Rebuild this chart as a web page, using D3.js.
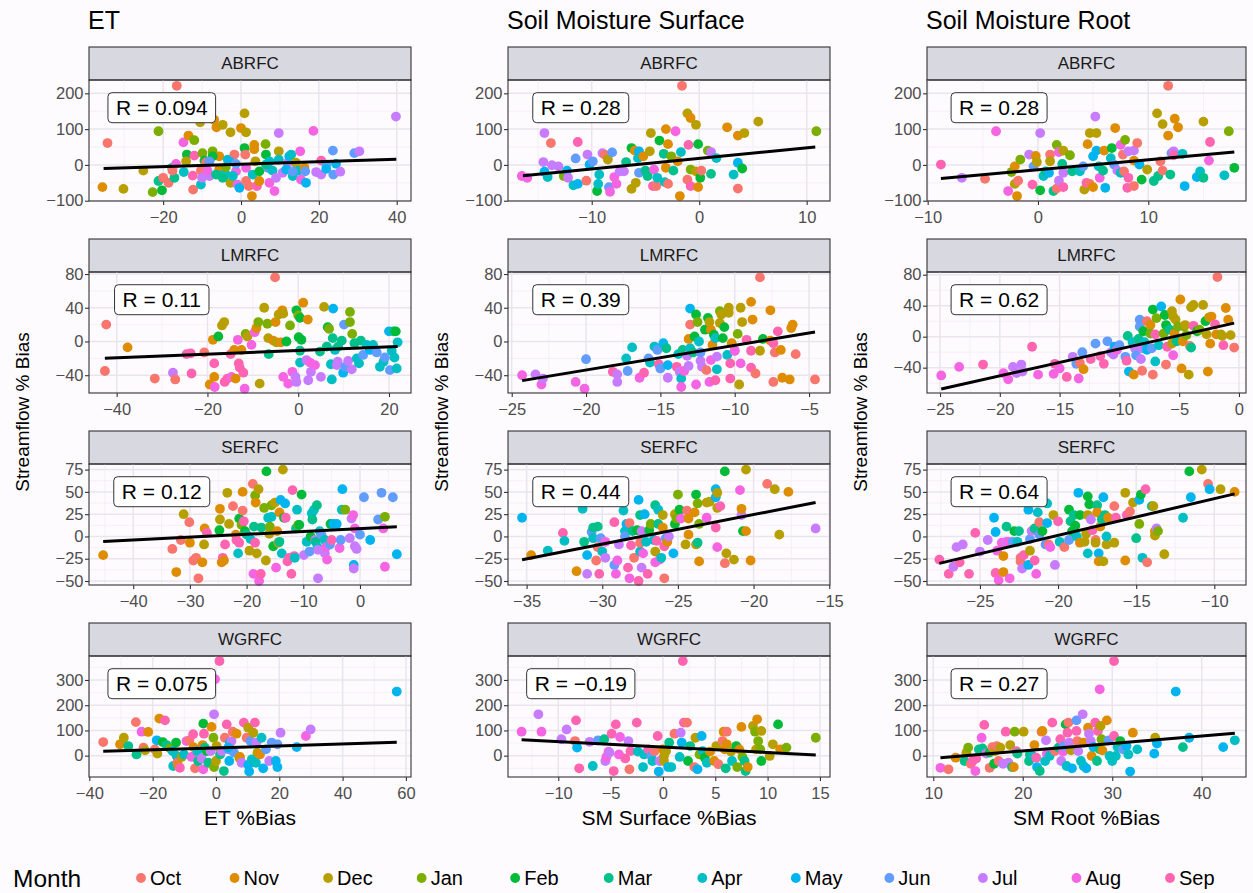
<!DOCTYPE html>
<html lang="en">
<head>
<meta charset="UTF-8">
<title>Streamflow bias vs ET and soil moisture bias</title>
<script src="https://d3js.org/d3.v7.min.js"></script>
<style>
  body { margin: 0; background: #fefbfe; }
  svg { display: block; font-family: "Liberation Sans", Arial, sans-serif; }
</style>
</head>
<body>
<div id="chart"></div>
<script>
// months in water-year order, colours = ggplot default hue palette
const months = ["Oct", "Nov", "Dec", "Jan", "Feb", "Mar", "Apr", "May", "Jun", "Jul", "Aug", "Sep"];
const monthColors = ["#F8766D", "#DE8C00", "#B79F00", "#7CAE00", "#00BA38", "#00C08B",
                     "#00BFC4", "#00B4F0", "#619CFF", "#C77CFF", "#F564E3", "#FF64B0"];
const regions = ["ABRFC", "LMRFC", "SERFC", "WGRFC"];
const columnTitles = ["ET", "Soil Moisture Surface", "Soil Moisture Root"];
const xTitles = ["ET %Bias", "SM Surface %Bias", "SM Root %Bias"];
const yTitle = "Streamflow % Bias";

// correlation labels, row-major (region x variable)
const rLabels = ["R = 0.094", "R = 0.28", "R = 0.28",
                 "R = 0.11", "R = 0.39", "R = 0.62",
                 "R = 0.12", "R = 0.44", "R = 0.64",
                 "R = 0.075", "R = \u22120.19", "R = 0.27"];

// fitted line end points [x0, y0, x1, y1]
const fitLines = [
  [-35.3, -10.3, 39.9, 15.6], [-16.4, -30, 10.8, 50], [-8.8, -38, 17.8, 36],
  [-42.6, -19.8, 21.9, -6], [-24.3, -46.4, -4.6, 11.2], [-24.9, -67.6, -0.4, 17.5],
  [-45.3, -5.6, 6.5, 10.8], [-35.3, -26.1, -15.9, 38.1], [-27.6, -30.2, -8.7, 47.8],
  [-35.6, 17.2, 57.1, 52.8], [-13.5, 63.4, 14.6, 2.6], [10.8, -7.9, 43.7, 88.5]
];

const xLimits = [
  [-39.05, 43.67], [-17.79, 12.17], [-10.06, 18.86],
  [-46.1, 24.85], [-25.25, -3.59], [-26.09, 0.59],
  [-47.8, 9.0], [-36.23, -14.95], [-28.39, -7.97],
  [-40.1, 61.6], [-14.8, 15.96], [9.3, 44.95]
];
const yLimits = [
  [-100.8, 237.2], [-100.8, 237.2], [-100.8, 237.2],
  [-61.1, 82.4], [-61.1, 82.4], [-72.7, 83.5],
  [-54.5, 81.3], [-54.5, 81.3], [-54.5, 81.3],
  [-84.5, 395], [-84.5, 395], [-84.5, 395]
];
const xTicks = [
  [-20, 0, 20, 40], [-10, 0, 10], [-10, 0, 10],
  [-40, -20, 0, 20], [-25, -20, -15, -10, -5], [-25, -20, -15, -10, -5, 0],
  [-40, -30, -20, -10, 0], [-35, -30, -25, -20, -15], [-25, -20, -15, -10],
  [-40, -20, 0, 20, 40, 60], [-10, -5, 0, 5, 10, 15], [10, 20, 30, 40]
];
const yTicksByRegion = [[-100, 0, 100, 200], [-40, 0, 40, 80], [-50, -25, 0, 25, 50, 75], [0, 100, 200, 300]];

// points: [x bias, streamflow bias, month index]
const etABRFC = [[-16.5,221,0],[-34.3,61,0],[-35.6,-62,1],[-30.2,-67,2],[-25.1,-16,2],[-22.7,-76,3],[-20.3,-71,4],[-21.2,94,3],[-21.2,-45,5],[-20,-36,0],[-18.6,-50,0],[-17.1,-36,5],[-17.7,-8,5],[-16.7,3,10],[-17.6,-16,0],[-14.8,63,10],[-13.5,82,1],[-12,69,3],[-13.9,29,4],[-14.1,10,2],[-14.7,-20,6],[-12.4,-30,11],[-12.3,-69,0],[-12,26,11],[-10.5,119,2],[-9.9,33,3],[-9.4,12,4],[-10.3,-16,0],[-9,7,0],[-10.3,-55,6],[-10,-36,9],[-8.1,-31,9],[-8.6,-16,10],[-7.3,38,3],[-6.9,126,1],[-6.3,105,1],[-4.7,112,2],[-5.6,24,1],[-7.3,24,4],[-5.6,-13,1],[-4.9,-29,6],[-3.9,-27,6],[-3.4,15,6],[-2.7,91,2],[-2.7,-50,2],[-3.9,-6,3],[-1.7,29,0],[-1.3,-18,10],[-0.9,-55,10],[-0.4,-64,7],[0,103,1],[0.9,144,2],[1.3,91,2],[0.9,47,4],[1.1,29,0],[1.3,-8,10],[1.3,-45,0],[2,-59,0],[2.8,-87,1],[3,-27,6],[3.4,56,1],[3.4,44,1],[3.7,10,2],[4.1,-59,11],[4.7,-45,1],[4.7,-18,4],[6.3,58,3],[6.4,29,4],[6.9,-8,8],[7.3,-50,10],[8.1,-16,6],[8.6,-73,10],[9,-36,9],[9.7,89,9],[9.7,38,2],[9.7,15,6],[10.7,-22,9],[12,6,9],[12.4,24,7],[12.9,29,6],[13.3,-31,6],[14.1,6,2],[14.8,-16,6],[15.2,38,10],[15.4,-41,10],[16.3,-8,1],[16.7,-50,7],[16.5,-18,8],[18.6,95,10],[19.3,-20,9],[20.6,12,11],[20.6,-27,9],[21.9,1,8],[21.9,-11,7],[23.6,40,8],[23.7,-27,8],[24.4,3,7],[25.5,-19,9],[29.1,33,8],[30.4,38,9],[39.8,135,9],[-8.1,10,8],[-3,10,7],[-1.3,3,8],[-4.7,-36,5],[-6.4,-27,5],[-2.1,-31,6],[6.4,1,5],[7.3,10,6],[11.6,-13,7],[13.3,-18,8]];
const smSurfABRFC = [[-1.6,221,0],[-16.5,-31,10],[-16,-36,10],[-14.4,89,9],[-14.5,8,9],[-14.4,-19,7],[-14.1,-34,6],[-13.8,61,0],[-13.7,-1,9],[-13.1,-4,9],[-12.6,-31,3],[-12.3,-16,7],[-12.2,-36,9],[-11.7,-57,6],[-11.5,18,8],[-11.3,64,11],[-11.3,-53,7],[-10.5,-44,0],[-10.4,29,9],[-10.2,1,7],[-9.9,10,8],[-9.5,-73,4],[-9.4,-53,6],[-9.3,-27,6],[-9,33,9],[-8.8,29,0],[-8.5,15,2],[-8.4,-62,8],[-8.3,-75,10],[-8.1,35,8],[-7.9,-34,10],[-7.7,-53,10],[-7.4,-18,9],[-7,-18,9],[-6.8,8,5],[-6.3,47,4],[-6.3,-67,2],[-6,40,1],[-5.9,-50,2],[-5.7,19,6],[-5.6,38,7],[-5.6,-22,8],[-5.2,24,1],[-5,-16,5],[-4.8,-31,5],[-4.5,89,2],[-4.6,38,2],[-4.3,-59,11],[-4.2,-13,10],[-4,-59,0],[-3.9,-36,6],[-3.7,68,4],[-3.3,31,5],[-3.2,-48,6],[-3.1,100,1],[-2.9,58,1],[-2.9,-53,0],[-3.1,-8,1],[-2.6,24,3],[-2.4,-16,5],[-2.2,94,10],[-2,10,1],[-1.8,-87,1],[-1.7,36,6],[-1.1,144,2],[-0.8,131,1],[-1,56,11],[-1.1,-41,0],[-0.8,-59,11],[-0.8,-13,3],[-0.3,112,2],[-0.3,-18,2],[-0.1,58,4],[-0.1,-62,1],[0.1,-36,4],[0.2,-16,0],[0.8,40,3],[1.1,36,9],[1.1,-25,5],[1.6,19,6],[2.6,105,1],[3.2,-27,6],[3.6,-66,0],[3.6,6,7],[3.6,82,1],[4,-10,4],[4.2,89,2],[5.5,121,2],[10.9,94,3]];
const smRootABRFC = [[-8.8,1,11],[-6.9,-36,9],[-4.8,-39,0],[-3.8,94,10],[-2.7,-73,10],[-2.4,-20,3],[-2.1,-4,1],[-2.1,-53,2],[-1.9,-87,1],[-1.8,-44,0],[-1.6,15,3],[-0.8,29,9],[-0.5,-55,11],[-0.4,-4,8],[-0.2,25,1],[-0.1,8,2],[0.2,89,9],[0.2,-71,4],[0.5,-31,6],[0.7,-18,5],[1,-22,7],[1.1,29,0],[1.1,10,2],[1.4,-73,5],[1.7,56,3],[1.9,36,10],[1.7,-66,0],[1.9,-44,9],[2.2,3,5],[2.3,-22,9],[2.3,40,2],[2.3,-62,11],[2.9,27,3],[3.1,-18,5],[3.8,-18,6],[4.1,-4,8],[4.2,-69,2],[4.4,-50,11],[4.5,58,1],[4.7,89,2],[4.7,-53,0],[5,24,7],[5,-62,1],[5.2,135,9],[5.3,89,2],[5.3,40,7],[5.5,-4,6],[5.6,-36,10],[6,40,1],[5.9,-16,5],[6.1,-64,7],[6.6,19,6],[6.7,47,4],[6.9,1,8],[7,103,1],[7.2,-16,9],[7.5,56,10],[7.5,-22,6],[7.7,29,0],[7.8,-18,0],[7.9,70,3],[8.1,-64,11],[8.2,38,9],[8.2,-36,11],[8.7,40,9],[8.7,12,1],[8.7,-59,0],[9,61,0],[9.2,1,7],[9.4,-41,4],[9.9,-13,2],[10.5,-45,5],[10.8,144,2],[10.9,-31,5],[11.1,10,0],[11.3,-16,0],[11.3,114,2],[11.8,82,1],[11.8,221,0],[12,-27,5],[12.1,33,8],[12.3,38,9],[12.3,27,11],[12.4,129,1],[12.7,105,1],[13.1,31,6],[13.3,-59,7],[14.4,-34,7],[14.7,-18,6],[15,121,2],[15,-36,5],[15.5,12,10],[15.6,64,11],[16.9,-29,6],[17.3,94,3],[17.8,-8,4]];

const etLMRFC = [[-5.1,76,0],[-42.3,20,0],[-42.6,-35,0],[-37.6,-7,1],[-31.6,-44,0],[-27.6,-37,9],[-27.1,-45,0],[-24.6,-15,11],[-23.7,-14,11],[-23.5,-38,11],[-20.7,-13,0],[-19.5,-51,1],[-18.8,2,1],[-18.5,-26,11],[-18.5,-42,1],[-18.4,-54,10],[-17.6,6,4],[-16.8,19,2],[-16.3,23,2],[-16.2,-48,11],[-15.6,-44,11],[-14.9,-15,11],[-14.7,-42,10],[-14.1,-10,1],[-13.8,-44,1],[-13.3,2,10],[-13.1,-26,11],[-12.9,-31,11],[-12.5,-10,1],[-12.1,-37,11],[-11.6,9,3],[-11.8,-56,10],[-11.2,6,2],[-10.3,-4,10],[-9.6,11,10],[-9.2,16,1],[-8.8,23,3],[-8.5,-50,2],[-7.5,40,2],[-6.8,21,3],[-6.6,4,2],[-6.5,-15,5],[-5.5,1,1],[-5,23,1],[-4.8,-1,2],[-4.3,32,2],[-3.8,-1,1],[-3.5,37,1],[-3.3,33,2],[-3.3,-42,10],[-2.6,0,4],[-2.2,-50,10],[-1.8,19,3],[-1.3,-36,10],[-0.6,-42,9],[-0.4,-48,9],[-0.4,37,4],[0,31,3],[0.1,5,4],[0.4,28,4],[0.4,-25,6],[0.7,2,4],[1.1,46,1],[0.4,-11,5],[1.8,-22,9],[2.1,26,1],[2.2,-46,9],[2.6,-25,10],[2.8,-36,9],[3.7,-28,10],[4.8,-12,5],[5,-42,9],[5.7,41,2],[6.3,-6,5],[6.5,17,4],[6.8,15,3],[7.2,-27,6],[7.4,-45,6],[7.6,4,5],[7.7,39,7],[8.1,-10,6],[8.5,-28,9],[8.7,-24,9],[8.8,-6,5],[9.6,1,5],[9.9,-37,7],[10.1,20,8],[10.4,-30,8],[11,-23,9],[11.4,35,3],[11.4,23,3],[11.8,-33,9],[11.9,9,3],[12.4,-2,5],[12.9,-20,6],[13.4,-26,6],[13.8,1,5],[14.3,-16,8],[15.1,-4,6],[15.8,-10,7],[16.5,-4,6],[17.3,-13,8],[18,-30,6],[18.8,-24,6],[19.1,-19,8],[20,12,7],[20.2,-34,8],[20.6,-11,6],[21,12,5],[21.5,12,4],[21.7,-32,6],[21.9,-1,6],[21.2,-19,6]];
const smSurfLMRFC = [[-8.3,76,0],[-24.3,-40,10],[-23.4,-39,9],[-23,-51,10],[-22.9,-44,9],[-20.7,-48,10],[-20.1,-56,10],[-20,-21,8],[-18.2,-36,11],[-17.9,-39,9],[-17.9,-48,9],[-17.2,-35,8],[-17.3,-20,6],[-16.9,-7,6],[-16.4,-43,10],[-16.1,-37,11],[-15.8,-20,8],[-15.7,-25,6],[-15.4,-6,6],[-15.2,-10,8],[-15.1,-27,11],[-15,-32,8],[-14.8,-2,7],[-14.6,-8,5],[-14.5,-28,7],[-14.5,-43,9],[-13.9,-30,11],[-13.8,-15,6],[-13.7,-36,9],[-13.6,-44,6],[-13.6,-54,10],[-13.5,-10,5],[-13.4,-35,10],[-13.2,-17,9],[-13.1,-29,9],[-13,20,0],[-13,39,7],[-13,-8,6],[-13.1,3,1],[-12.8,-13,5],[-12.7,6,4],[-12.6,32,4],[-12.6,-51,10],[-12.5,23,3],[-12.4,0,6],[-12.3,-23,9],[-12.3,-13,8],[-12.2,-30,9],[-12,14,4],[-11.9,-34,0],[-11.8,28,4],[-11.7,23,2],[-11.7,-48,10],[-11.6,14,1],[-11.6,-22,10],[-11.5,-4,1],[-11.4,8,4],[-11.3,4,6],[-11.3,-46,11],[-11.2,-33,6],[-11.2,-18,9],[-11,22,2],[-11,36,3],[-10.9,32,2],[-10.8,4,4],[-10.7,17,4],[-10.5,-16,6],[-10.4,34,2],[-10.4,40,2],[-10.3,-44,11],[-10.3,-26,11],[-10.2,-2,1],[-10,-11,9],[-10,-11,10],[-9.8,9,3],[-9.7,-51,2],[-9.6,-26,10],[-9.6,40,2],[-9.5,23,2],[-9.2,2,11],[-8.9,47,1],[-8.9,-11,11],[-8.9,-31,11],[-8.8,26,1],[-8.6,-38,0],[-8.3,-11,2],[-8.1,3,4],[-7.6,37,1],[-7.6,1,1],[-7.4,-2,11],[-7.4,-48,0],[-7.3,-13,0],[-7.1,12,11],[-6.9,-10,1],[-6.8,-43,1],[-6.3,-45,1],[-6.2,16,1],[-6.1,20,1],[-5.9,-15,0],[-4.6,-45,0]];
const smRootLMRFC = [[-1.8,77,0],[-24.9,-50,10],[-23.4,-39,10],[-21.4,-36,11],[-19.7,-47,10],[-19.3,-55,10],[-18.9,-39,9],[-18.6,-47,9],[-18.2,-36,9],[-18.1,-45,9],[-17.3,-13,11],[-16.8,-49,10],[-15.5,-48,10],[-15.4,-35,11],[-15,-41,10],[-14.4,-52,11],[-13.9,-26,9],[-13.6,-35,8],[-13.4,-54,10],[-13.3,-34,0],[-13.1,-20,8],[-13,-42,1],[-12.4,-29,11],[-12,-9,8],[-11.6,-25,11],[-11.3,-35,11],[-11,-6,8],[-10.7,-20,9],[-10.5,-23,9],[-10.4,-13,7],[-10.2,-17,10],[-10,-11,8],[-9.5,-26,8],[-9.4,-31,11],[-9.3,1,5],[-9.2,-45,7],[-8.9,-7,6],[-8.8,-49,1],[-8.7,-15,9],[-8.6,-24,8],[-8.4,-3,5],[-8.3,22,8],[-8.3,13,8],[-8.2,-29,9],[-8.1,-15,9],[-8.1,-44,0],[-8,7,4],[-7.9,-7,6],[-7.7,20,0],[-7.7,-17,7],[-7.4,15,1],[-7.4,4,3],[-7.3,-15,8],[-7.2,-49,0],[-7.2,35,4],[-7,-32,6],[-7,3,11],[-6.9,24,3],[-6.7,-11,6],[-6.5,39,7],[-6.3,4,3],[-6.2,28,4],[-6.1,-36,0],[-6.1,15,4],[-6,-13,11],[-5.8,9,5],[-5.6,33,2],[-5.6,-9,2],[-5.5,-24,10],[-5.5,26,2],[-5.4,4,1],[-5.3,22,2],[-5.2,-6,5],[-5.1,13,3],[-4.9,48,1],[-4.8,-41,1],[-4.7,-6,1],[-4.6,13,3],[-4.5,15,2],[-4.4,2,3],[-4.2,-49,2],[-4.1,-12,0],[-4,-14,5],[-4,38,2],[-3.8,14,11],[-3.8,41,2],[-3.5,7,4],[-3.3,9,3],[-3,41,2],[-2.8,20,4],[-2.7,3,2],[-2.6,-45,1],[-2.5,25,2],[-2.4,-9,1],[-2.3,26,1],[-2,16,11],[-1.9,3,1],[-1.5,3,2],[-1.3,-11,11],[-1.4,1,2],[-1.1,37,1],[-0.9,22,1],[-0.7,2,2],[-0.4,-14,0]];

const etSERFC = [[-45.3,-21,1],[-33.1,-14,0],[-32.4,-40,1],[-31.1,25,2],[-31.6,-4,0],[-30.1,16,0],[-30,-7,1],[-29.4,-27,0],[-28.9,-24,0],[-28.5,-47,0],[-27.8,-29,1],[-27.5,-9,2],[-27.4,9,1],[-27,4,11],[-24.8,7,4],[-24.7,31,1],[-24.7,19,2],[-24.4,-29,1],[-24.2,-24,11],[-23.8,-9,11],[-24,-27,1],[-23.4,49,2],[-23.1,14,2],[-22.4,34,0],[-21.9,2,1],[-21.8,-4,11],[-21.5,-19,6],[-21.3,-7,11],[-21.3,20,4],[-20.9,13,3],[-20.7,29,0],[-20.7,50,1],[-20.5,17,11],[-20.3,6,4],[-20,2,5],[-19.5,-16,2],[-19.3,-3,6],[-18.9,59,0],[-18.8,-42,10],[-18.7,11,5],[-18.5,46,3],[-18.5,-7,11],[-18.4,38,1],[-18.2,-19,2],[-17.9,53,2],[-17.8,-50,10],[-17.5,-42,11],[-17.4,10,5],[-16.9,32,3],[-16.6,-27,2],[-16.5,73,4],[-16.2,21,6],[-16,3,2],[-15.9,11,3],[-15.6,35,3],[-15.6,22,6],[-15.3,-11,4],[-15,38,2],[-14.8,-35,10],[-14.6,6,1],[-14.4,-7,2],[-14.2,27,1],[-14.2,-6,5],[-14,41,7],[-13.8,-19,6],[-13.6,75,2],[-13.4,21,4],[-13.2,37,7],[-13.1,21,11],[-12.8,-28,11],[-12.5,-24,11],[-12.1,-42,11],[-11.9,52,11],[-11.6,-22,11],[-11.5,-24,6],[-11.3,9,5],[-11.1,30,6],[-10.9,13,3],[-10.7,13,4],[-10.3,47,4],[-9.9,-21,9],[-9.4,-6,6],[-8.9,-17,8],[-8.7,0,4],[-8.5,26,6],[-8.4,19,5],[-8.1,30,6],[-7.9,-4,9],[-7.8,-6,5],[-7.6,35,5],[-7.5,-12,6],[-7.4,-15,9],[-7.4,-47,9],[-7.1,6,6],[-6.8,2,8],[-6.2,-19,9],[-6.2,-4,6],[-6,-12,10],[-5.8,-26,10],[-5.3,-9,8],[-5.2,14,4],[-5,-4,11],[-4.7,14,7],[-4.1,14,7],[-3.6,-13,10],[-3.4,-4,8],[-3.2,30,6],[-3.1,53,7],[-2.6,30,3],[-1.8,-2,9],[-1.5,20,9],[-1.2,24,10],[-1.1,-32,7],[-1.1,-36,9],[-0.9,9,10],[-0.9,-11,9],[-0.6,-14,9],[0,2,8],[0.7,44,8],[1.8,-4,7],[3.2,19,8],[3.8,49,8],[4.4,22,3],[4.4,-34,10],[5.8,44,8],[6.5,-20,7],[4.1,9,10]];
const smSurfSERFC = [[-35.3,21,7],[-34.7,-21,1],[-33.6,-16,6],[-32.6,4,11],[-32.5,-5,6],[-31.7,-39,1],[-31.3,31,6],[-31.2,-6,5],[-31,-21,7],[-31,-42,9],[-30.7,5,8],[-30.6,-2,6],[-30.6,10,5],[-30.3,11,5],[-30.4,-27,0],[-30.3,-12,0],[-30.2,-42,11],[-30.1,-2,8],[-30,-17,6],[-29.8,-6,10],[-29.8,-24,9],[-29.2,16,11],[-29.2,-32,8],[-29.1,-42,10],[-29,-27,10],[-28.9,-9,9],[-28.6,29,6],[-28.5,6,6],[-28.5,0,8],[-28.4,14,7],[-28.3,-35,11],[-28.2,-47,10],[-28.2,15,0],[-28.1,-10,11],[-28,6,5],[-27.9,-24,0],[-27.7,7,4],[-27.6,-50,11],[-27.6,41,7],[-27.5,24,5],[-27.5,-17,6],[-27.5,-7,0],[-27.4,6,9],[-27.4,-35,9],[-27.3,-19,10],[-27.2,25,7],[-27.1,-6,6],[-27,-42,11],[-26.9,7,4],[-26.8,14,3],[-26.6,-4,6],[-26.5,-17,2],[-26.5,-29,10],[-26.5,35,5],[-26.4,-5,11],[-26.3,30,6],[-26.3,14,5],[-26.2,-26,10],[-26.1,-24,6],[-26,24,2],[-26,10,1],[-25.9,-47,0],[-25.9,-11,11],[-25.8,-2,8],[-25.7,-6,1],[-25.6,0,9],[-25.3,-19,7],[-25.2,14,4],[-25.2,25,2],[-25.1,20,3],[-25,47,3],[-24.9,30,4],[-24.8,20,10],[-24.5,-9,2],[-24.4,29,0],[-24.3,2,1],[-24.3,20,1],[-23.9,27,1],[-23.8,-9,2],[-23.8,47,4],[-23.7,37,3],[-23.7,-7,5],[-23.6,-28,1],[-23.6,14,3],[-23.1,38,2],[-23.1,21,10],[-22.9,39,2],[-22.5,44,7],[-22.5,53,7],[-22.5,10,11],[-22.4,49,2],[-22.4,-12,10],[-22.4,32,2],[-22.2,34,11],[-21.9,73,4],[-21.9,-30,0],[-21.8,-19,2],[-21.3,-26,2],[-20.9,52,10],[-20.8,24,9],[-20.8,31,1],[-20.7,6,4],[-20.5,75,2],[-20.5,6,1],[-20.2,-27,1],[-19.1,59,0],[-18.6,53,2],[-18.3,2,2],[-17.7,50,1],[-15.9,9,9]];
const smRootSERFC = [[-27.6,-26,11],[-27,-42,11],[-26.7,-34,9],[-26.5,-12,9],[-26.1,-9,9],[-26.3,-29,11],[-25.7,-42,11],[-25.3,4,11],[-25,-17,9],[-24.5,-4,9],[-24.1,21,7],[-24,5,7],[-24,-41,11],[-23.9,-16,10],[-23.8,-49,10],[-23.6,-7,10],[-23.5,-22,1],[-23.5,-40,1],[-23.3,-6,9],[-23.3,11,5],[-23.2,-6,10],[-23.1,-47,10],[-22.9,-6,8],[-22.8,6,4],[-22.6,-6,6],[-22.5,6,5],[-22.4,-24,0],[-22.4,-28,0],[-22.3,-36,9],[-22.2,-21,11],[-21.9,-32,7],[-21.9,30,7],[-21.8,-16,2],[-21.8,-3,8],[-21.7,6,9],[-21.5,-27,11],[-21.5,9,5],[-21.4,-42,10],[-21.3,27,6],[-21.2,16,0],[-21.2,2,8],[-21,6,4],[-20.8,-9,8],[-20.7,15,7],[-20.7,37,6],[-20.6,-9,0],[-20.5,-12,10],[-20.3,24,2],[-20.2,-32,9],[-20,17,11],[-19.9,-6,6],[-19.6,-12,0],[-19.3,30,4],[-19.3,-4,8],[-19.2,17,5],[-19.1,6,4],[-19,24,5],[-18.9,12,4],[-18.8,0,6],[-18.7,49,7],[-18.6,24,4],[-18.6,-7,1],[-18.3,-6,2],[-18.2,3,2],[-18.1,45,4],[-18.1,-19,6],[-18.1,24,2],[-18,36,4],[-17.9,19,9],[-17.8,7,11],[-17.6,-4,0],[-17.6,-7,2],[-17.5,35,5],[-17.5,27,1],[-17.4,-19,7],[-17.4,-28,1],[-17.3,11,1],[-17.2,19,5],[-17.1,-28,2],[-17.1,44,7],[-17,24,5],[-16.9,-9,2],[-16.9,0,6],[-16.8,21,1],[-16.4,-7,2],[-16.4,34,0],[-16.3,21,11],[-15.7,49,2],[-15.7,-27,1],[-15.6,24,11],[-15.4,28,0],[-15.2,38,2],[-15,-2,5],[-14.8,41,7],[-14.8,14,3],[-14.7,47,4],[-14.6,-24,6],[-14.4,53,11],[-14.3,-29,0],[-14,34,5],[-13.9,34,2],[-13.8,6,1],[-13.8,1,2],[-13.7,9,9],[-13.6,6,3],[-13.2,-20,2],[-12,21,6],[-11.6,73,4],[-11.5,44,7],[-10.8,75,2],[-10.4,59,0],[-10.3,53,7],[-9.6,53,2],[-8.7,50,1]];

const etWGRFC = [[1.1,375,11],[-0.3,303,10],[57.1,254,7],[-35.6,54,0],[-30.3,45,1],[-29.1,71,2],[-27.7,38,5],[-25.1,5,5],[-25.3,133,0],[-23.5,95,10],[-22.9,32,0],[-22.4,21,2],[-21.4,94,1],[-19.3,25,0],[-18.7,61,7],[-18.5,8,2],[-17.9,147,1],[-16.8,54,4],[-16.1,140,11],[-15.6,42,5],[-14.5,29,3],[-13.5,-41,6],[-12.6,52,4],[-12.4,-1,6],[-12.2,-28,0],[-11.9,-41,1],[-11.4,-48,11],[-10.8,-5,2],[-10.1,5,6],[-9.3,58,10],[-8.4,61,0],[-7.7,-5,10],[-7.2,85,11],[-7.1,34,1],[-6.6,-50,0],[-5.9,18,6],[-5.6,-21,5],[-4.5,-11,9],[-4.2,42,1],[-4,127,4],[-4,-54,10],[-3.8,87,11],[-3.5,32,5],[-2.9,18,4],[-2.4,-28,5],[-1.7,18,9],[-1.4,114,1],[-0.8,71,3],[-0.6,164,9],[-0.6,-45,3],[0,-21,2],[0.2,38,2],[1.3,5,5],[1.8,18,9],[2.5,-61,5],[2.8,71,0],[3.4,124,11],[3.9,25,8],[4.2,-21,7],[4.4,52,7],[4.9,58,9],[5.3,95,0],[5.7,12,8],[6.5,87,1],[7.4,-8,2],[7.6,-5,1],[8.1,-28,9],[8.8,131,11],[9.7,71,0],[10.2,111,2],[10.2,-37,7],[10.5,-63,7],[10.9,58,8],[11.3,-15,6],[11.8,91,2],[12.3,131,11],[12.6,-28,6],[12.8,52,9],[13.1,12,2],[13.9,5,1],[14.4,71,6],[14.9,-50,7],[15.8,25,8],[16.8,-21,9],[17.6,52,8],[18.9,-21,7],[19.4,-45,7],[19.4,45,8],[20.4,91,9],[25.5,34,7],[28.4,78,10],[29.9,104,9],[-13.7,18,6],[3.9,32,7]];
const smSurfWGRFC = [[1.9,375,11],[-13.5,95,10],[-11.9,164,9],[-11.6,95,10],[-9.7,65,9],[-9.2,104,9],[-8.3,140,11],[-8.4,58,0],[-8.2,32,7],[-8,-50,11],[-6.7,-41,6],[-7,55,9],[-6.2,61,8],[-5.6,65,5],[-5.5,-21,9],[-5.4,-5,10],[-5.2,16,10],[-5.1,12,9],[-4.9,87,11],[-4.7,-61,11],[-4.5,124,11],[-4.1,74,10],[-4.2,5,10],[-3.6,-11,11],[-3.3,58,9],[-3.2,-54,0],[-3.1,18,11],[-2.5,131,11],[-2.4,16,6],[-1.9,-45,6],[-1.8,5,6],[-1.4,25,11],[-1.1,-1,8],[-1,-21,6],[-0.8,18,0],[-0.5,78,11],[-0.4,-63,7],[-0.3,-21,9],[0,25,1],[0.1,-21,2],[0.1,-1,2],[0.3,18,2],[0.5,-45,7],[0.6,52,5],[0.8,-45,6],[1.1,87,0],[1.6,-5,6],[1.7,91,9],[1.8,52,7],[2,131,11],[2.3,131,0],[2.4,-21,4],[2.6,38,5],[3,-45,0],[3.1,71,2],[3.3,-54,7],[3.5,5,3],[3.7,78,7],[3.8,18,6],[4,-8,4],[4.2,-28,6],[4.5,16,1],[4.9,-21,1],[5.1,38,2],[5.3,-34,0],[5.7,58,0],[5.8,95,1],[5.9,25,1],[6.1,95,0],[6.1,45,1],[6,-50,5],[6.5,16,2],[6.6,-21,6],[7,38,4],[7.1,-45,3],[7.3,25,1],[7.5,114,1],[7.6,-5,3],[7.8,-21,5],[7.9,-61,5],[8.1,-45,1],[8.6,118,2],[8.8,95,3],[8.9,25,2],[9,144,1],[9.1,58,3],[9.3,25,3],[9.4,98,2],[9.4,-21,4],[10.2,-1,2],[10.5,45,2],[11,124,4],[11.2,25,1],[11.8,32,3],[14.6,71,3]];
const smRootWGRFC = [[30.2,375,11],[28.6,263,10],[37.1,254,7],[10.8,-48,10],[11.7,-54,0],[12.5,-8,1],[13.5,-21,5],[13.7,12,2],[13.9,32,3],[14.2,-32,0],[14.4,-21,11],[14.7,-61,10],[14.8,-11,11],[15.1,25,5],[15.4,71,10],[15.5,29,5],[15.7,122,11],[15.9,8,9],[16.3,-48,0],[16.3,12,4],[16.6,34,0],[16.8,-32,4],[16.9,18,2],[17.1,38,0],[17.3,-21,0],[17.5,32,2],[17.8,-32,9],[18.1,95,11],[18.4,-28,9],[18.6,42,2],[18.8,-45,5],[19,-45,1],[19.1,95,3],[19.3,18,11],[19.4,8,5],[20.1,95,2],[20.7,-21,5],[20.8,5,5],[21.1,-1,6],[21.3,42,1],[21.5,-8,11],[21.6,-45,7],[21.9,-61,5],[22.1,95,0],[22.2,98,1],[22.5,-21,6],[22.6,61,9],[22.7,8,10],[23,-1,6],[23.3,131,11],[23.6,18,0],[24,32,5],[24.2,65,11],[24.3,-21,9],[24.5,16,10],[24.6,38,8],[24.8,124,4],[24.9,-41,6],[25,91,11],[25.1,131,0],[25.2,52,9],[25.4,21,2],[25.5,-50,7],[26,140,8],[26,98,11],[26.1,58,0],[26.2,18,9],[26.5,-21,6],[26.7,164,9],[26.8,52,1],[26.8,-41,6],[27.1,-50,7],[27.3,111,1],[27.4,87,9],[27.6,58,9],[27.7,-1,1],[27.9,34,7],[28.1,131,11],[28.3,-21,5],[28.4,98,11],[28.6,25,5],[28.7,118,2],[28.8,65,3],[28.9,21,1],[29.4,140,1],[29.6,61,8],[29.7,-1,6],[30,-21,6],[30.2,78,11],[30.4,-1,6],[30.6,34,6],[30.9,58,4],[31.2,25,8],[31.6,38,7],[31.8,5,6],[32,-63,7],[32.3,91,1],[32.8,25,6],[34.7,8,7],[34.8,71,2],[35,48,7],[37.9,34,5],[38.6,71,7],[42.4,34,7],[43.7,61,6]];

const panelData = [etABRFC, smSurfABRFC, smRootABRFC,
                   etLMRFC, smSurfLMRFC, smRootLMRFC,
                   etSERFC, smSurfSERFC, smRootSERFC,
                   etWGRFC, smSurfWGRFC, smRootWGRFC];

// ---- layout ----
const W = 1253, H = 893;
const colX = [89, 508, 927], colW = [322, 322, 319];
const stripTop = [47, 239, 431, 623], stripH = 33, plotH = 121;
const bg = "#fefbfe";

const color = d3.scaleOrdinal().domain(d3.range(12)).range(monthColors);

const svg = d3.select("#chart").append("svg")
  .attr("width", W).attr("height", H);
svg.append("rect").attr("width", W).attr("height", H).attr("fill", bg);

// minor breaks halfway between majors, inside the limits
function minorBreaks(ticks, dom) {
  const s = ticks[1] - ticks[0], out = [];
  for (let v = ticks[0] - s / 2; v <= dom[1]; v += s) if (v >= dom[0]) out.push(v);
  return out;
}

panelData.forEach((pts, k) => {
  const r = Math.floor(k / 3), c = k % 3;
  const left = colX[c], w = colW[c];
  const top = stripTop[r] + stripH;
  const x = d3.scaleLinear().domain(xLimits[k]).range([left, left + w]);
  const y = d3.scaleLinear().domain(yLimits[k]).range([top + plotH, top]);
  const yt = yTicksByRegion[r];
  const g = svg.append("g");

  // strip
  g.append("rect").attr("x", left).attr("y", stripTop[r]).attr("width", w).attr("height", stripH)
    .attr("fill", "#d8d8e0").attr("stroke", "#333").attr("stroke-width", 1.1);
  g.append("text").attr("x", left + w / 2).attr("y", stripTop[r] + stripH / 2).attr("dy", "0.35em")
    .attr("text-anchor", "middle").attr("font-size", 17).attr("fill", "#1a1a1a").text(regions[r]);

  // grid
  const grid = g.append("g");
  grid.selectAll(".mx").data(minorBreaks(xTicks[k], xLimits[k])).join("line")
    .attr("x1", d => x(d)).attr("x2", d => x(d)).attr("y1", top).attr("y2", top + plotH)
    .attr("stroke", "#f1edf4").attr("stroke-width", 0.8);
  grid.selectAll(".my").data(minorBreaks(yt, yLimits[k])).join("line")
    .attr("y1", d => y(d)).attr("y2", d => y(d)).attr("x1", left).attr("x2", left + w)
    .attr("stroke", "#f1edf4").attr("stroke-width", 0.8);
  grid.selectAll(".Mx").data(xTicks[k]).join("line")
    .attr("x1", d => x(d)).attr("x2", d => x(d)).attr("y1", top).attr("y2", top + plotH)
    .attr("stroke", "#e9e5ed").attr("stroke-width", 1.5);
  grid.selectAll(".My").data(yt).join("line")
    .attr("y1", d => y(d)).attr("y2", d => y(d)).attr("x1", left).attr("x2", left + w)
    .attr("stroke", "#e9e5ed").attr("stroke-width", 1.5);

  // points
  g.append("g").selectAll("circle").data(pts).join("circle")
    .attr("cx", d => x(d[0])).attr("cy", d => y(d[1])).attr("r", 4.9)
    .attr("fill", d => color(d[2]));

  // fitted line
  const f = fitLines[k];
  g.append("line").attr("x1", x(f[0])).attr("y1", y(f[1])).attr("x2", x(f[2])).attr("y2", y(f[3]))
    .attr("stroke", "#000").attr("stroke-width", 3);

  // R label
  const lab = g.append("g").attr("transform", `translate(${left + 0.226 * w},${top + 0.229 * plotH})`);
  const box = lab.append("rect");
  const txt = lab.append("text").attr("text-anchor", "middle").attr("dy", "0.35em")
    .attr("font-size", 21).attr("fill", "#000").text(rLabels[k]);
  const tw = txt.node().getComputedTextLength() + 16;
  box.attr("x", -tw / 2).attr("y", -15).attr("width", tw).attr("height", 30).attr("rx", 4)
    .attr("fill", "#fff").attr("stroke", "#333").attr("stroke-width", 1);

  // panel border
  g.append("rect").attr("x", left).attr("y", top).attr("width", w).attr("height", plotH)
    .attr("fill", "none").attr("stroke", "#333").attr("stroke-width", 1.1);

  // axes
  const ax = g.append("g").attr("transform", `translate(0,${top + plotH})`)
    .call(d3.axisBottom(x).tickValues(xTicks[k]).tickFormat(d3.format("d")).tickSize(4).tickPadding(6.5));
  const ay = g.append("g").attr("transform", `translate(${left},0)`)
    .call(d3.axisLeft(y).tickValues(yt).tickFormat(d3.format("d")).tickSize(4).tickPadding(1.5));
  [ax, ay].forEach(a => {
    a.select(".domain").remove();
    a.selectAll(".tick line").attr("stroke", "#333").attr("stroke-width", 1.1);
    a.selectAll(".tick text").attr("fill", "#4d4d4d").attr("font-size", 16.5)
      .attr("font-family", "'Liberation Sans', Arial, sans-serif");
  });
});

// column titles, axis titles
columnTitles.forEach((t, c) => {
  svg.append("text").attr("x", colX[c] - 1).attr("y", 29).attr("font-size", 25).attr("fill", "#000").text(t);
  svg.append("text").attr("transform", `translate(${colX[c] - 60},412) rotate(-90)`)
    .attr("text-anchor", "middle").attr("font-size", 19).attr("fill", "#000").text(yTitle);
  svg.append("text").attr("x", colX[c] + colW[c] / 2).attr("y", 825)
    .attr("text-anchor", "middle").attr("font-size", 21).attr("fill", "#000").text(xTitles[c]);
});

// legend
const legY = 878;
svg.append("text").attr("x", 13).attr("y", legY).attr("dy", "0.35em")
  .attr("font-size", 24.5).attr("fill", "#000").text("Month");
const legendX = d3.scalePoint().domain(months).range([141, 1170]);
months.forEach((m, i) => {
  svg.append("circle").attr("cx", legendX(m)).attr("cy", legY).attr("r", 4.9).attr("fill", monthColors[i]);
  svg.append("text").attr("x", legendX(m) + 9).attr("y", legY).attr("dy", "0.35em")
    .attr("font-size", 20).attr("fill", "#000").text(m);
});
</script>
</body>
</html>
